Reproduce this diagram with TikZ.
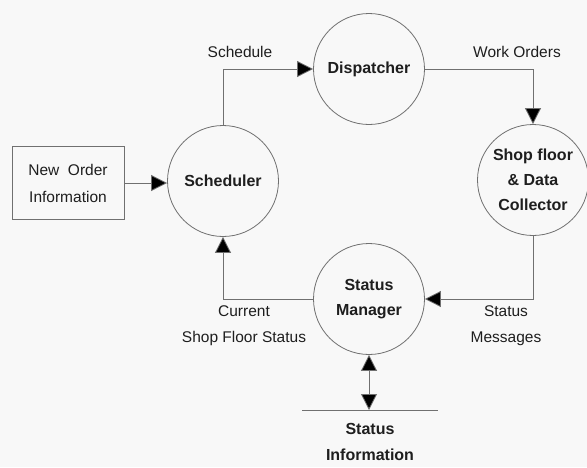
\documentclass[tikz,border=0pt]{standalone}
\usepackage{fontspec}
\setmainfont{Liberation Sans}
\usetikzlibrary{arrows.meta}
\definecolor{bg}{HTML}{F8F8F8}
\definecolor{ln}{HTML}{707070}
\definecolor{tx}{HTML}{1E1E1E}
\begin{document}
\begin{tikzpicture}[x=1pt,y=-1pt,
  proc/.style={circle,draw=ln,line width=0.8pt,minimum size=111pt,inner sep=0pt,align=center,text=tx,font=\fontsize{16}{25}\selectfont\bfseries},
  ent/.style={rectangle,draw=ln,line width=0.8pt,minimum width=112pt,minimum height=73pt,inner sep=0pt,align=center,text=tx,font=\fontsize{15.5}{27}\selectfont},
  lbl/.style={align=center,text=tx,font=\fontsize{15.5}{26}\selectfont,inner sep=0pt},
  blbl/.style={align=center,text=tx,font=\fontsize{16}{26}\selectfont\bfseries,inner sep=0pt},
  flow/.style={draw=ln,line width=0.8pt,-{Triangle[length=16pt,width=16pt,fill=black]}},
  bflow/.style={draw=ln,line width=0.8pt,{Triangle[length=16pt,width=16pt,fill=black]}-{Triangle[length=16pt,width=16pt,fill=black]}}
]
\fill[bg] (0,0) rectangle (587,467);
\useasboundingbox (0,0) rectangle (587,467);

\node[ent] (box) at (68,183) {New \ Order\\Information};
\node[proc] (sched) at (223,181) {Scheduler};
\node[proc] (disp) at (369,69) {Dispatcher};
\node[proc] (shop) at (533,180) {Shop floor\\\& Data\\Collector};
\node[proc] (stat) at (369,299) {Status\\Manager};
\coordinate (sL) at (302,410);
\coordinate (sR) at (438,410);
\draw[ln,line width=0.8pt] (sL) -- (sR);
\coordinate (sM) at (stat |- sL);

\draw[flow] (box.east) -- (box.east -| sched.west);
\draw[flow] (sched.north) |- (disp.west);
\draw[flow] (disp.east) -| (shop.north);
\draw[flow] (shop.south) |- (stat.east);
\draw[flow] (stat.west) -| (sched.south);
\draw[bflow] (stat.south) -- (sM);

\node[lbl] (l1) at (240,52) {Schedule};
\node[lbl] (l2) at (517,52) {Work Orders};
\node[lbl] (l3) at (244,326) {Current\\Shop Floor Status};
\node[lbl] (l4) at (506,326) {Status\\Messages};
\node[blbl] (l5) at (370,442) {Status\\Information};
\end{tikzpicture}
\end{document}
